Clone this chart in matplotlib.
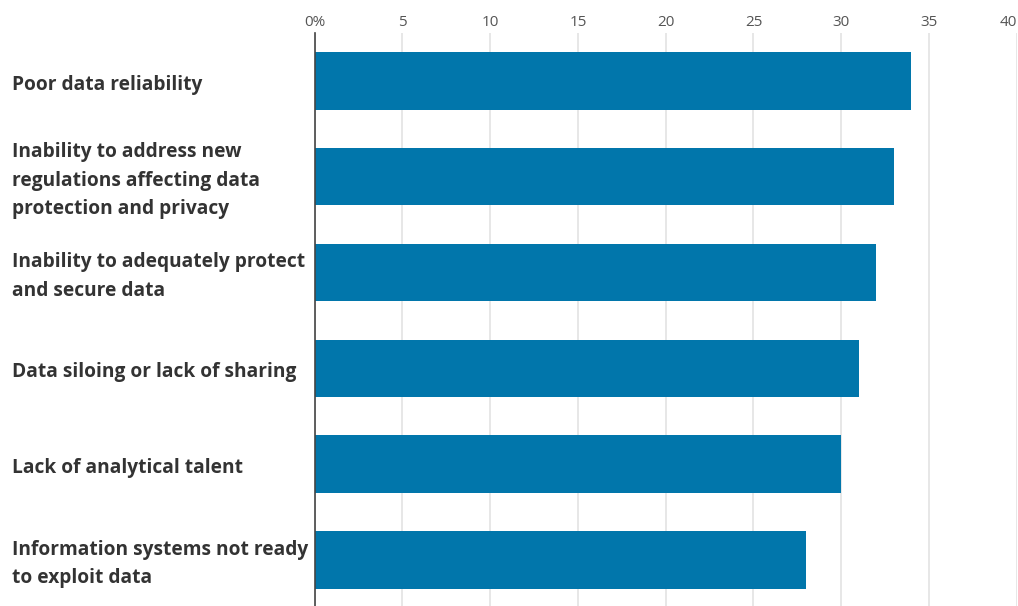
import matplotlib
matplotlib.use("Agg")
import matplotlib.pyplot as plt
from matplotlib.transforms import blended_transform_factory, ScaledTranslation

categories = [
    "Poor data reliability",
    "Inability to address new\nregulations affecting data\nprotection and privacy",
    "Inability to adequately protect\nand secure data",
    "Data siloing or lack of sharing",
    "Lack of analytical talent",
    "Information systems not ready\nto exploit data",
]
values = [34, 33, 32, 31, 30, 28]
tick_values = [0, 5, 10, 15, 20, 25, 30, 35, 40]
tick_labels = ["0%", "5", "10", "15", "20", "25", "30", "35", "40"]

W, H = 1018, 606
fig = plt.figure(figsize=(W / 100, H / 100), dpi=100)
ax = fig.add_axes([314.7 / W, 0, 702 / W, 1 - 33 / H])

ypos = list(range(len(categories)))
ax.barh(ypos, values, height=0.6, color="#0176ab", zorder=3)
ax.set_xlim(0, 40)
ax.set_ylim(5.48, -0.5)

ax.set_xticks(tick_values)
ax.xaxis.tick_top()
ax.set_xticklabels(tick_labels, family="Open Sans", fontsize=11, color="#555555")
ax.tick_params(axis="x", length=0, pad=2.5)
last = ax.xaxis.get_major_ticks()[-1]
last.label1.set_horizontalalignment("right")
last.label2.set_horizontalalignment("right")
ax.set_yticks([])
ax.grid(axis="x", color="#e3e3e3", linewidth=1.2, zorder=0)
for s in ["top", "right", "bottom"]:
    ax.spines[s].set_visible(False)
ax.spines["left"].set_color("#444444")
ax.spines["left"].set_linewidth(1.2)
ax.spines["left"].set_zorder(4)

tr = blended_transform_factory(fig.transFigure, ax.transData) + \
    ScaledTranslation(0, -4 / 100, fig.dpi_scale_trans)
for y, lab in zip(ypos, categories):
    ax.text(12 / W, y, lab, transform=tr, ha="left", va="center",
            family="Open Sans", fontweight="bold", fontsize=13.8, color="#333333",
            linespacing=1.55)

fig.savefig("out.png", dpi=100)
